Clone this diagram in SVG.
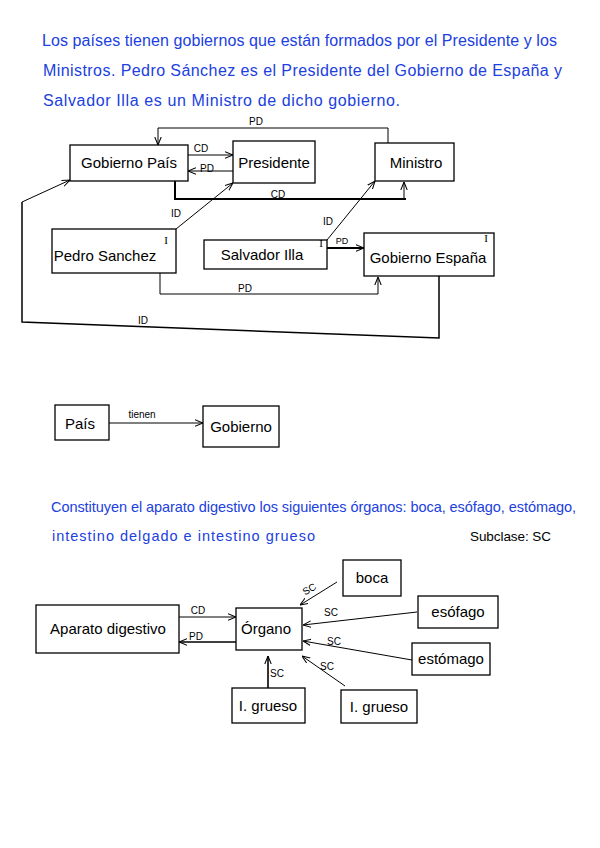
<svg xmlns="http://www.w3.org/2000/svg" width="600" height="848" viewBox="0 0 600 848">
<style>
.box{fill:none;stroke:#000;stroke-width:1.3}
.n{font-family:"Liberation Sans",Arial,sans-serif;font-size:15px;fill:#000;text-anchor:middle}
.p{font-family:"Liberation Sans",Arial,sans-serif;font-size:16px;fill:#2040e0}
.q{font-family:"Liberation Sans",Arial,sans-serif;font-size:14.5px;fill:#2040e0}
.l{font-family:"Liberation Sans",Arial,sans-serif;font-size:10px;fill:#000;text-anchor:middle}
.i{font-family:"Liberation Serif",serif;font-size:11px;fill:#000;text-anchor:middle}
.c{fill:none;stroke:#000;stroke-width:1}
.t{fill:none;stroke:#000;stroke-width:2}
</style>
<defs>
<marker id="a" viewBox="0 0 10 10" refX="10" refY="5" markerWidth="8" markerHeight="8" markerUnits="userSpaceOnUse" orient="auto">
<path d="M0,1 L10,5 L0,9" fill="none" stroke="#000" stroke-width="1.3"/>
</marker>
</defs>
<g id="texts">
<text class="p" x="42" y="46" textLength="515" lengthAdjust="spacing">Los países tienen gobiernos que están formados por el Presidente y los</text>
<text class="p" x="43" y="76" textLength="519" lengthAdjust="spacing">Ministros. Pedro Sánchez es el Presidente del Gobierno de España y</text>
<text class="p" x="43" y="106" textLength="357" lengthAdjust="spacing">Salvador Illa es un Ministro de dicho gobierno.</text>
<text class="q" x="51" y="512" textLength="525" lengthAdjust="spacing">Constituyen el aparato digestivo los siguientes órganos: boca, esófago, estómago,</text>
<text class="q" x="52" y="541" textLength="263" lengthAdjust="spacing">intestino delgado e intestino grueso</text>
<text class="q" x="470" y="541" textLength="81" lengthAdjust="spacing" style="fill:#000;font-size:13.5px">Subclase: SC</text>
</g>
<g id="connectors">
<polyline class="c" points="388,143 388,128 158,128 158,145" marker-end="url(#a)"/>
<text class="l" x="256" y="125">PD</text>
<line class="c" x1="188" y1="155" x2="233" y2="155" marker-end="url(#a)"/>
<text class="l" x="201" y="152">CD</text>
<line class="c" x1="233" y1="171" x2="188" y2="171" marker-end="url(#a)"/>
<text class="l" x="207" y="172">PD</text>
<polyline class="t" points="175,181 175,199 406,199"/>
<line class="c" x1="404" y1="199" x2="404" y2="182" marker-end="url(#a)"/>
<text class="l" x="278" y="198">CD</text>
<line class="c" x1="176" y1="229" x2="233" y2="183" marker-end="url(#a)"/>
<text class="l" x="176" y="217">ID</text>
<line class="c" x1="327" y1="240" x2="375" y2="181" marker-end="url(#a)"/>
<text class="l" x="328" y="225">ID</text>
<line class="t" x1="327" y1="248" x2="364" y2="248" marker-end="url(#a)"/>
<text class="l" x="342" y="244" style="font-size:9px">PD</text>
<polyline class="c" points="160,273 160,294 378,294"/>
<line class="c" x1="378" y1="294" x2="378" y2="277" marker-end="url(#a)"/>
<text class="l" x="245" y="292">PD</text>
<polyline class="c" points="439,276 439,338 22,322 22,202" style="stroke-width:1.5"/>
<line class="c" x1="22" y1="202" x2="70" y2="180" marker-end="url(#a)"/>
<text class="l" x="143" y="324">ID</text>
<line class="c" x1="109" y1="423" x2="203" y2="423" marker-end="url(#a)"/>
<text class="l" x="142" y="418">tienen</text>
<line class="c" x1="179" y1="617" x2="236" y2="617" marker-end="url(#a)"/>
<text class="l" x="198" y="614">CD</text>
<line class="c" x1="236" y1="642" x2="179" y2="642" style="stroke-width:1.6" marker-end="url(#a)"/>
<text class="l" x="196" y="640">PD</text>
<line class="c" x1="268" y1="688" x2="268" y2="656" style="stroke-width:1.6" marker-end="url(#a)"/>
<text class="l" x="277" y="677">SC</text>
<line class="c" x1="337" y1="582" x2="300" y2="605" marker-end="url(#a)"/>
<text class="l" x="311" y="592" transform="rotate(-30 311 592)">SC</text>
<line class="c" x1="417" y1="612" x2="303" y2="625" marker-end="url(#a)"/>
<text class="l" x="331" y="616">SC</text>
<line class="c" x1="412" y1="660" x2="303" y2="641" marker-end="url(#a)"/>
<text class="l" x="334" y="645">SC</text>
<line class="c" x1="345" y1="686" x2="302" y2="656" marker-end="url(#a)"/>
<text class="l" x="327" y="670">SC</text>
</g>
<g id="gobierno-pais"><rect class="box" x="70" y="145" width="118" height="36"/><text class="n" x="129" y="168">Gobierno País</text></g>
<g id="presidente"><rect class="box" x="233" y="141" width="82" height="42"/><text class="n" x="274" y="168">Presidente</text></g>
<g id="ministro"><rect class="box" x="375" y="143" width="79" height="38"/><text class="n" x="416" y="168">Ministro</text></g>
<g id="pedro-sanchez"><rect class="box" x="52" y="229" width="124" height="44"/><text class="n" x="105" y="261">Pedro Sanchez</text><text class="i" x="166" y="244">I</text></g>
<g id="salvador-illa"><rect class="box" x="204" y="240" width="123" height="29"/><text class="n" x="262" y="260">Salvador Illa</text><text class="i" x="321" y="247">I</text></g>
<g id="gobierno-espana"><rect class="box" x="364" y="233" width="130" height="43"/><text class="n" x="428" y="263">Gobierno España</text><text class="i" x="486" y="242">I</text></g>
<g id="pais"><rect class="box" x="55" y="405" width="54" height="35"/><text class="n" x="80" y="429">País</text></g>
<g id="gobierno"><rect class="box" x="203" y="406" width="76" height="41"/><text class="n" x="241" y="432">Gobierno</text></g>
<g id="aparato-digestivo"><rect class="box" x="36" y="605" width="143" height="48"/><text class="n" x="108" y="634">Aparato digestivo</text></g>
<g id="organo"><rect class="box" x="236" y="608" width="66" height="42"/><text class="n" x="266" y="634">Órgano</text></g>
<g id="i-grueso-1"><rect class="box" x="232" y="688" width="73" height="35"/><text class="n" x="268" y="711">I. grueso</text></g>
<g id="boca"><rect class="box" x="343" y="560" width="58" height="36"/><text class="n" x="372" y="583">boca</text></g>
<g id="esofago"><rect class="box" x="418" y="596" width="80" height="32"/><text class="n" x="458" y="617">esófago</text></g>
<g id="estomago"><rect class="box" x="412" y="643" width="78" height="32"/><text class="n" x="451" y="664">estómago</text></g>
<g id="i-grueso-2"><rect class="box" x="341" y="690" width="76" height="33"/><text class="n" x="379" y="712">I. grueso</text></g>
</svg>
